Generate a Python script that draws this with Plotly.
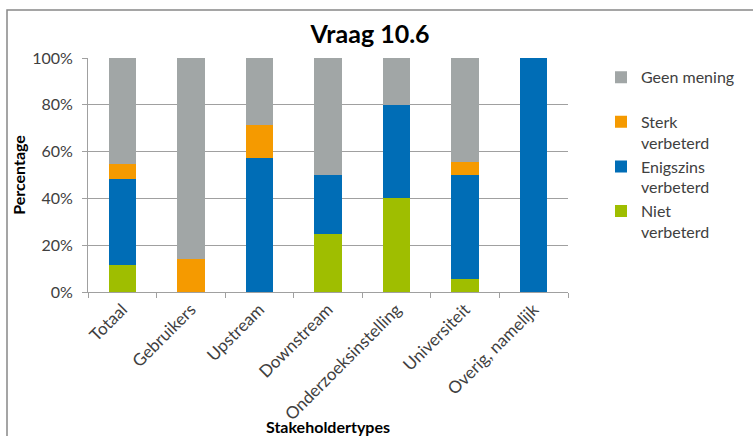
import plotly.graph_objects as go

categories = ["Totaal", "Gebruikers", "Upstream", "Downstream",
              "Onderzoeksinstelling", "Universiteit", "Overig, namelijk"]
niet_verbeterd = [11.4, 0.0, 0.0, 25.0, 40.0, 5.6, 0.0]
enigszins_verbeterd = [37.1, 0.0, 57.1, 25.0, 40.0, 44.4, 100.0]
sterk_verbeterd = [6.3, 14.3, 14.3, 0.0, 0.0, 5.6, 0.0]
geen_mening = [45.2, 85.7, 28.6, 50.0, 20.0, 44.4, 0.0]

series = [
    ("Niet<br>verbeterd", niet_verbeterd, "#9FBE00"),
    ("Enigszins<br>verbeterd", enigszins_verbeterd, "#006DB6"),
    ("Sterk<br>verbeterd", sterk_verbeterd, "#F59A00"),
    ("Geen mening<br> ", geen_mening, "#A1A6A6"),
]

font = "Lato, 'Open Sans', sans-serif"
fig = go.Figure()
for name, vals, col in series:
    fig.add_trace(go.Bar(x=categories, y=vals, name=name,
                         marker=dict(color=col, line=dict(width=0))))

fig.update_layout(
    barmode="stack",
    bargap=0.6,
    width=753, height=436,
    margin=dict(l=88, r=185, t=58, b=144),
    paper_bgcolor="white", plot_bgcolor="white",
    font=dict(family=font, size=16, color="#404040"),
    title=dict(text="<b>Vraag 10.6</b>", x=370 / 753, xanchor="center",
               y=1 - 34 / 436, yanchor="middle",
               font=dict(size=25, color="black", family=font)),
    legend=dict(x=(601 - 88) / 480, xanchor="left", y=0.99, yanchor="top",
                traceorder="reversed", valign="top",
                font=dict(size=16, color="#404040", family=font),
                itemwidth=30, tracegroupgap=0),
    showlegend=True,
)
fig.update_yaxes(range=[0, 100], tickvals=[0, 20, 40, 60, 80, 100],
                 ticktext=["0%", "20%", "40%", "60%", "80%", "100%"],
                 showgrid=True, gridcolor="#A0A0A0", gridwidth=1,
                 showline=True, linecolor="#A0A0A0", linewidth=1,
                 ticks="outside", ticklen=5, tickcolor="#A0A0A0",
                 ticklabelstandoff=6,
                 zeroline=False, automargin=False,
                 tickfont=dict(size=16),
                 title=dict(text="<b>Percentage</b>", standoff=2,
                            font=dict(size=16, color="black", family=font)))
fig.update_xaxes(showline=True, linecolor="#A0A0A0", linewidth=1,
                 ticks="outside", ticklen=5, tickcolor="#A0A0A0",
                 tickson="boundaries", tickangle=-45, automargin=False,
                 tickfont=dict(size=17),
                 title=dict(text="<b>Stakeholdertypes</b>", standoff=0,
                            font=dict(size=16, color="black", family=font)))

# outer chart frame
fig.add_shape(type="rect", xref="paper", yref="paper",
              x0=(7 - 88) / 480, x1=(770 - 88) / 480,
              y0=(292 - 450) / 234, y1=(292 - 10) / 234,
              line=dict(color="#888888", width=1.5), fillcolor="rgba(0,0,0,0)",
              layer="below")

fig.write_html("out.html")
